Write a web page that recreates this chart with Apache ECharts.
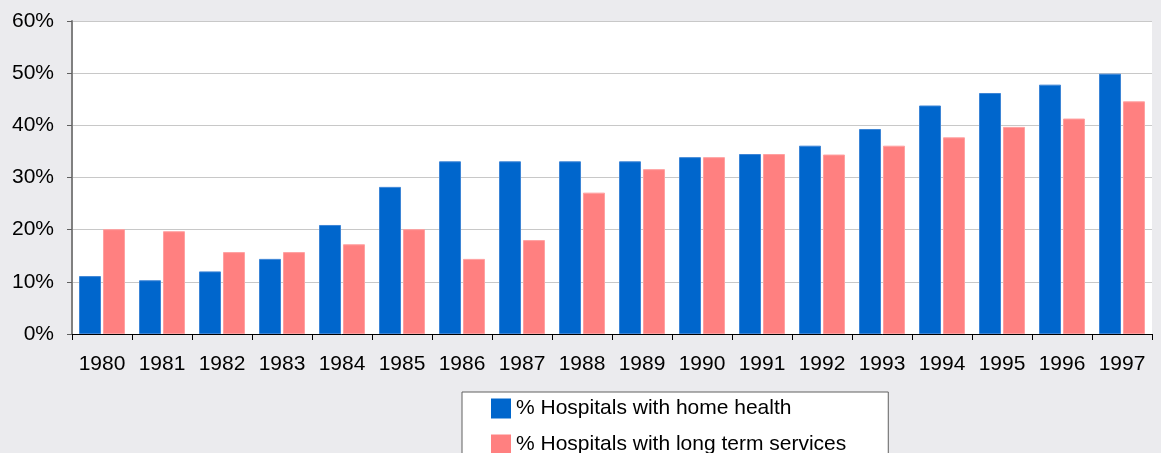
<!DOCTYPE html>
<html>
<head>
<meta charset="utf-8">
<script src="https://cdn.jsdelivr.net/npm/echarts@6/dist/echarts.min.js"></script>
<style>
  html, body { margin: 0; padding: 0; background: #ebebee; }
  #chart { width: 1161px; height: 453px; }
</style>
</head>
<body>
<div id="chart"></div>
<script>
// data
const years = ['1980', '1981', '1982', '1983', '1984', '1985', '1986', '1987', '1988',
  '1989', '1990', '1991', '1992', '1993', '1994', '1995', '1996', '1997']
const homeHealth = [11.1, 10.3, 12.0, 14.4, 20.9, 28.2, 33.1, 33.1, 33.1,
  33.1, 33.9, 34.5, 36.1, 39.3, 43.8, 46.2, 47.8, 49.9]
const longTerm = [20.1, 19.7, 15.7, 15.7, 17.2, 20.1, 14.4, 18.0, 27.1,
  31.6, 33.9, 34.5, 34.4, 36.1, 37.7, 39.7, 41.3, 44.6]
const seriesNames = ['% Hospitals with home health', '% Hospitals with long term services']

const font = '"Liberation Sans", Arial, sans-serif'

const chart = echarts.init(document.getElementById('chart'))

const option = {
  backgroundColor: '#ebebee',
  animation: false,
  textStyle: { fontFamily: font },
  grid: {
    left: 72,
    right: 9,
    top: 21,
    bottom: 119,
    show: true,
    backgroundColor: '#ffffff',
    borderWidth: 0
  },
  legend: {
    orient: 'vertical',
    left: 462,
    top: 392,
    height: 90,
    padding: [6, 42, 20, 29],
    itemWidth: 20,
    itemHeight: 20,
    itemGap: 15,
    icon: 'rect',
    itemStyle: { borderWidth: 0 },
    backgroundColor: '#ffffff',
    borderColor: '#606060',
    borderWidth: 1,
    textStyle: { fontSize: 21, color: '#000', fontFamily: font },
    data: seriesNames
  },
  xAxis: {
    type: 'category',
    data: years,
    axisLine: { lineStyle: { color: '#000', width: 1 } },
    axisTick: { show: true, length: 6, lineStyle: { color: '#000' } },
    axisLabel: { color: '#000', fontSize: 21, margin: 20, interval: 0, fontFamily: font }
  },
  yAxis: {
    type: 'value',
    min: 0,
    max: 60,
    interval: 10,
    axisLine: { show: true, lineStyle: { color: '#808080', width: 2 } },
    axisTick: { show: true, length: 5, lineStyle: { color: '#606060' } },
    axisLabel: { formatter: '{value}%', color: '#000', fontSize: 21, margin: 18, fontFamily: font },
    splitLine: { lineStyle: { color: '#c8c8c8', width: 1 } }
  },
  series: [
    {
      name: seriesNames[0],
      type: 'bar',
      barWidth: 22,
      barGap: '9%',
      itemStyle: { color: '#0066cc', borderColor: '#3d85d6', borderWidth: 1 },
      data: homeHealth
    },
    {
      name: seriesNames[1],
      type: 'bar',
      barWidth: 22,
      itemStyle: { color: '#ff8080', borderColor: '#ffa0a0', borderWidth: 1 },
      data: longTerm
    }
  ]
}

chart.setOption(option)
</script>
</body>
</html>
